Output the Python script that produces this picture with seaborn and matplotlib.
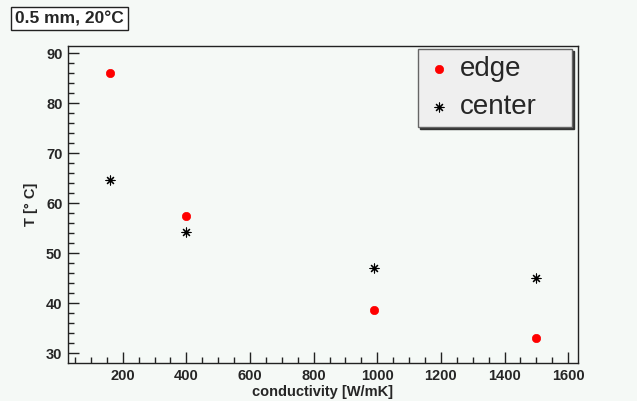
import numpy as np
import pandas as pd
import matplotlib
matplotlib.use("Agg")
import matplotlib.pyplot as plt
from matplotlib.ticker import MultipleLocator
import seaborn as sns

# data
conductivity = [160, 400, 990, 1500]
t_edge = [86.0, 57.5, 38.6, 33.0]
t_center = [64.7, 54.3, 47.1, 45.0]
series = ["edge", "center"]

df = pd.DataFrame({
    "conductivity": conductivity * 2,
    "T": t_edge + t_center,
    "pos": [series[0]] * 4 + [series[1]] * 4,
})

sns.set_style("ticks")
plt.rcParams["font.family"] = ["Liberation Sans", "DejaVu Sans"]

bg = "#f5f9f6"
fig = plt.figure(figsize=(6.37, 4.01), dpi=100, facecolor=bg)
ax = fig.add_axes([68 / 637, 1 - 363 / 401, 510 / 637, 317 / 401])
ax.set_facecolor(bg)

sns.scatterplot(data=df[df.pos == "edge"], x="conductivity", y="T", ax=ax,
                color="red", marker="o", s=36, edgecolor="red", linewidth=0.5,
                label="edge", zorder=3)
sns.scatterplot(data=df[df.pos == "center"], x="conductivity", y="T", ax=ax,
                color="black", marker=(8, 2, 0), s=42, linewidth=0.8,
                label="center", zorder=3)

ax.set_xlim(28, 1631)
ax.set_ylim(28.1, 91.4)
ax.xaxis.set_major_locator(MultipleLocator(200))
ax.xaxis.set_minor_locator(MultipleLocator(50))
ax.yaxis.set_major_locator(MultipleLocator(10))
ax.yaxis.set_minor_locator(MultipleLocator(2))
ax.tick_params(which="both", direction="in", top=False, right=False,
               color="#222222", width=1)
ax.tick_params(which="major", length=8, labelsize=10.5, pad=4)
ax.tick_params(which="minor", length=4)
for lab in ax.get_xticklabels() + ax.get_yticklabels():
    lab.set_fontweight("bold")
for sp in ax.spines.values():
    sp.set_color("#222222")
    sp.set_linewidth(1)

ax.set_xlabel("conductivity [W/mK]", fontsize=10.5, fontweight="bold", labelpad=2)
ax.set_ylabel("T [° C]", fontsize=10.5, fontweight="bold", labelpad=6)

leg = ax.legend(loc="upper left", bbox_to_anchor=(350 / 510, 314 / 317, 154 / 510, 0),
                mode="expand", fontsize=20, frameon=True, fancybox=False,
                shadow={"ox": 1.2, "oy": -1.2, "color": "#333333", "alpha": 1},
                handletextpad=0.25, borderpad=0.25, labelspacing=0.45,
                handlelength=1.0, borderaxespad=0)
leg.get_frame().set_facecolor("#efefef")
leg.get_frame().set_edgecolor("#666666")
leg.get_frame().set_linewidth(1)
leg.get_frame().set_alpha(1)

fig.text(15 / 637, 1 - 18.5 / 401, "0.5 mm, 20°C", fontsize=12.5, fontweight="bold",
         ha="left", va="center",
         bbox=dict(boxstyle="square,pad=0.22", facecolor="white",
                   edgecolor="#222222", linewidth=1))

fig.savefig("out.png", dpi=100, facecolor=bg)
